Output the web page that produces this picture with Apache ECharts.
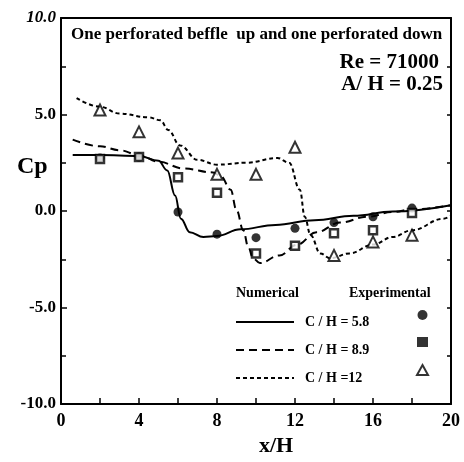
<!DOCTYPE html>
<html>
<head>
<meta charset="utf-8">
<script src="https://cdn.jsdelivr.net/npm/echarts@6/dist/echarts.min.js"></script>
<style>
  html, body { margin: 0; padding: 0; background: #fff; }
  #chart { width: 464px; height: 462px; }
</style>
</head>
<body>
<div id="chart"></div>
<script>
// numerical curves, [x/H, Cp]
const curve58 = [
  [0.6, 2.9], [2, 2.9], [4, 2.85], [5, 2.6], [5.45, 2.1], [5.85, 0.8], [6.15, -0.4],
  [6.6, -1.1], [7.3, -1.35], [8, -1.3], [9.2, -0.95], [11, -0.72], [13, -0.48],
  [15, -0.25], [17, -0.03], [20, 0.3]
];
const curve89 = [
  [0.6, 3.7], [2, 3.35], [3, 3.15], [4, 2.9], [5, 2.55], [6.3, 2.2], [7.8, 2.0],
  [8.2, 1.8], [8.7, 1.1], [9.0, 0.05], [9.35, -1.0], [9.6, -1.85], [9.85, -2.45],
  [10.2, -2.7], [11.2, -2.3], [12.1, -1.75], [13.1, -1.1], [14.3, -0.6],
  [15.7, -0.3], [17, -0.05], [18, 0.08], [20, 0.3]
];
const curve12 = [
  [0.8, 5.85], [2, 5.4], [3, 5.05], [4.5, 4.85], [5.1, 4.7], [5.5, 4.2], [6.1, 3.4],
  [7.0, 2.65], [8, 2.4], [9.5, 2.5], [11.1, 2.75], [11.7, 2.5], [12.25, 1.1],
  [12.5, -0.3], [12.8, -1.25], [13.3, -2.2], [13.8, -2.45], [14.8, -2.2],
  [16, -1.74], [17, -1.35], [18, -1.0], [19.6, -0.4], [20, -0.25]
];

// experimental points
const expX = [2, 4, 6, 8, 10, 12, 14, 16, 18];
const exp58 = [2.75, 2.8, -0.05, -1.2, -1.38, -0.9, -0.6, -0.3, 0.15];
const exp89 = [2.7, 2.8, 1.75, 0.95, -2.2, -1.8, -1.15, -1.0, -0.1];
const exp12 = [5.23, 4.1, 3.0, 1.9, 1.9, 3.3, -2.3, -1.6, -1.25];

const lineNames = ['C / H = 5.8', 'C / H = 8.9', 'C / H =12'];
const expNames = ['exp 5.8', 'exp 8.9', 'exp 12'];

const serif = '"Liberation Serif", "DejaVu Serif", serif';
const pairs = (ys) => expX.map((x, i) => [x, ys[i]]);

const lineSeries = (name, data, type) => ({
  name,
  type: 'line',
  data,
  color: '#000',
  smooth: 0.4,
  smoothMonotone: 'x',
  symbol: 'none',
  lineStyle: { color: '#000', width: 2, type },
  z: 2
});

const expSeries = (name, data, symbol, size, style) => ({
  name,
  type: 'scatter',
  data: pairs(data),
  symbol,
  symbolSize: size,
  itemStyle: style,
  z: 3
});

const txt = (size, extra) => Object.assign({
  fontFamily: serif, fontWeight: 'bold', fontSize: size, color: '#000'
}, extra || {});

const option = {
  animation: false,
  backgroundColor: '#fff',
  grid: { left: 61, right: 13, top: 18, bottom: 58 },
  title: [
    { text: 'One perforated beffle  up and one perforated down', left: 66, top: 21, textStyle: txt(17) },
    { text: 'Re = 71000', right: 20, top: 47, textStyle: txt(21) },
    { text: 'A/ H = 0.25', right: 16, top: 69, textStyle: txt(21) },
    { text: 'Cp', left: 12, top: 150, textStyle: txt(24) },
    { text: 'x/H', left: 254, top: 430, textStyle: txt(22) },
    { text: 'Numerical', left: 231, top: 281, textStyle: txt(14) },
    { text: 'Experimental', left: 344, top: 281, textStyle: txt(14) }
  ],
  legend: [
    {
      data: lineNames,
      orient: 'vertical',
      left: 230,
      top: 310,
      itemWidth: 58,
      itemHeight: 14,
      itemGap: 14,
      itemStyle: { opacity: 0 },
      textStyle: txt(14, { padding: [0, 0, 0, 6] })
    },
    {
      data: [
        { name: expNames[0] },
        { name: expNames[1], itemStyle: { color: '#000', borderWidth: 0 } },
        { name: expNames[2] }
      ],
      orient: 'vertical',
      left: 411,
      top: 305,
      itemWidth: 11,
      itemHeight: 10,
      itemGap: 17,
      formatter: () => ''
    }
  ],
  xAxis: [
    {
      type: 'value',
      min: 0,
      max: 20,
      interval: 4,
      axisLine: { onZero: false, lineStyle: { color: '#000', width: 2 } },
      axisTick: { inside: true, length: 6, lineStyle: { color: '#000', width: 1.5 } },
      minorTick: { show: true, splitNumber: 2, length: 6, lineStyle: { color: '#000', width: 1.5 } },
      splitLine: { show: false },
      axisLabel: txt(18, { margin: 8 })
    },
    {
      type: 'value',
      position: 'top',
      min: 0,
      max: 20,
      axisLine: { show: true, onZero: false, lineStyle: { color: '#000', width: 2 } },
      axisTick: { show: false },
      axisLabel: { show: false },
      splitLine: { show: false }
    }
  ],
  yAxis: [
    {
      type: 'value',
      min: -10,
      max: 10,
      interval: 5,
      axisLine: { onZero: false, lineStyle: { color: '#000', width: 2 } },
      axisTick: { inside: true, length: 6, lineStyle: { color: '#000', width: 1.5 } },
      minorTick: { show: true, splitNumber: 2, length: 5, lineStyle: { color: '#000', width: 1.5 } },
      splitLine: { show: false },
      axisLabel: txt(17, {
        margin: 5,
        formatter: (v) => v === 10 ? '{it|10.0}' : v.toFixed(1),
        rich: { it: txt(17, { fontStyle: 'italic' }) }
      })
    },
    {
      type: 'value',
      position: 'right',
      min: -10,
      max: 10,
      interval: 5,
      axisLine: { show: true, onZero: false, lineStyle: { color: '#000', width: 2 } },
      axisTick: { inside: true, length: 4, lineStyle: { color: '#000', width: 1.5 } },
      minorTick: { show: true, splitNumber: 2, length: 4, lineStyle: { color: '#000', width: 1.5 } },
      axisLabel: { show: false },
      splitLine: { show: false }
    }
  ],
  series: [
    lineSeries(lineNames[0], curve58, 'solid'),
    lineSeries(lineNames[1], curve89, [8, 5]),
    lineSeries(lineNames[2], curve12, [4, 3]),
    expSeries(expNames[0], exp58, 'circle', 9, { color: '#000' }),
    expSeries(expNames[1], exp89, 'rect', 8, { color: '#fff', borderColor: '#000', borderWidth: 2.5 }),
    expSeries(expNames[2], exp12, 'triangle', 11, { color: '#fff', borderColor: '#000', borderWidth: 2 })
  ]
};

const chart = echarts.init(document.getElementById('chart'));
chart.setOption(option);
</script>
</body>
</html>
